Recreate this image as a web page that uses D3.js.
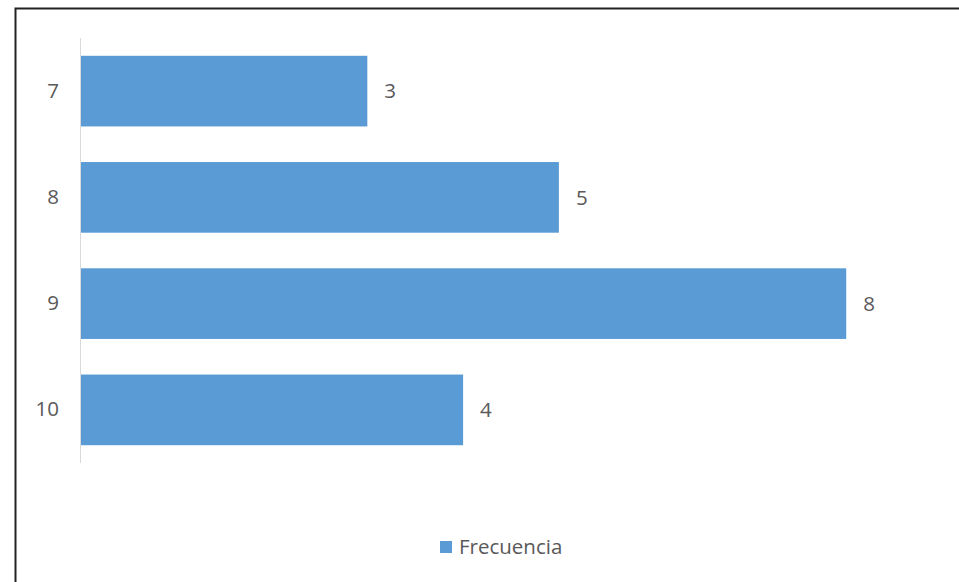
<!DOCTYPE html>
<html><head><meta charset="utf-8">
<script src="https://cdn.jsdelivr.net/npm/d3@7"></script>
<style>html,body{margin:0;padding:0;background:#fff;}svg{display:block;}</style>
</head><body>
<script>
const categories = ["7", "8", "9", "10"];
const values = [3, 5, 8, 4];
const seriesName = "Frecuencia";

const W = 959, H = 582;
const svg = d3.select("body").append("svg").attr("width", W).attr("height", H);
const font = "'Open Sans', 'Noto Sans', sans-serif";
const fs = 20.5;

svg.append("rect").attr("width", W).attr("height", H).attr("fill", "#fff");
// frame (top and left visible)
svg.append("path").attr("d", `M15.5,${H} L15.5,8.5 L${W},8.5`)
  .attr("fill", "none").attr("stroke", "#222").attr("stroke-width", 2);

const x = d3.scaleLinear().domain([0, 9]).range([80, 942]);
const y = d3.scaleBand().domain(categories).range([38, 463]).paddingInner(0.335).paddingOuter(0.1675);

svg.append("g").selectAll("rect").data(values).join("rect")
  .attr("x", x(0)).attr("y", (d, i) => y(categories[i]))
  .attr("width", d => x(d) - x(0)).attr("height", y.bandwidth())
  .attr("fill", "#5B9BD5");

const yAxis = svg.append("g").attr("transform", `translate(${x(0)},0)`)
  .call(d3.axisLeft(y).tickSize(0).tickPadding(21));
yAxis.select(".domain").attr("stroke", "#D9D9D9").attr("d", "M0.5,38V463");
yAxis.selectAll("text").attr("font-family", font).attr("font-size", fs).attr("fill", "#595959");

svg.append("g").selectAll("text").data(values).join("text")
  .attr("x", d => x(d) + 17).attr("y", (d, i) => y(categories[i]) + y.bandwidth() / 2)
  .attr("dy", "0.35em").attr("font-family", font).attr("font-size", fs).attr("fill", "#595959")
  .text(d => d);

const lg = svg.append("g");
lg.append("rect").attr("x", 440).attr("y", 541).attr("width", 12).attr("height", 12).attr("fill", "#5B9BD5");
lg.append("text").attr("x", 459).attr("y", 554).attr("font-family", font).attr("font-size", fs)
  .attr("fill", "#595959").text(seriesName);
</script>
</body></html>
